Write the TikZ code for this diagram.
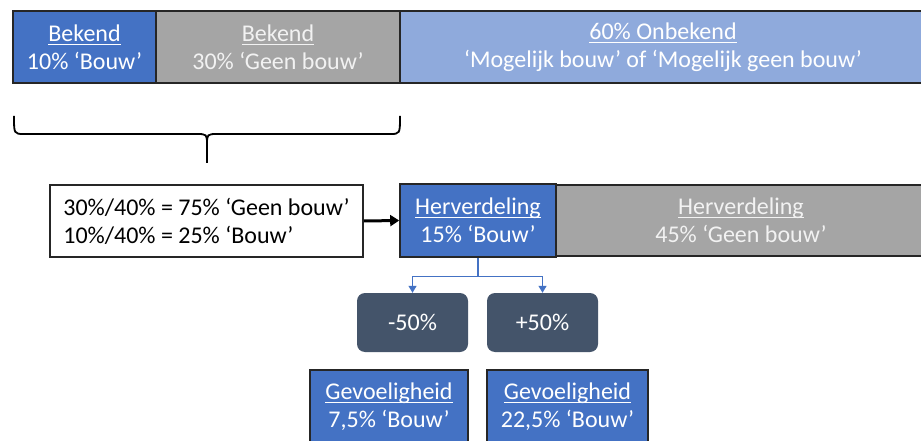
\documentclass[tikz,border=0pt]{standalone}
\usepackage{fontspec}
\setmainfont{Carlito}
\usetikzlibrary{arrows.meta}
\definecolor{obl}{HTML}{4472C4}
\definecolor{ogr}{HTML}{A5A5A5}
\definecolor{olb}{HTML}{8FAADC}
\definecolor{odk}{HTML}{44546A}
\definecolor{otx}{HTML}{F2F2F2}
\definecolor{olin}{HTML}{262626}
\newsavebox\ulbox
\newcommand\ulin[1]{\sbox\ulbox{#1}\rlap{\rule[-3.6pt]{\wd\ulbox}{1.1pt}}\usebox\ulbox}
\tikzset{
  box/.style={draw=olin, line width=1.6pt, inner sep=0pt, align=center,
    font=\fontsize{24}{28}\selectfont},
  bluebox/.style={box, fill=obl, text=white},
  graybox/.style={box, fill=ogr, text=otx},
  lightbox/.style={box, fill=olb, text=white},
  whitebox/.style={box, fill=white, text=black, align=left},
  darkbox/.style={fill=odk, text=white, rounded corners=8pt, inner sep=0pt,
    font=\fontsize{24}{28}\selectfont},
  bluelink/.style={draw=obl, line width=1.2pt, -{Triangle[width=8pt,length=7pt]}},
  blacklink/.style={draw=black, line width=3pt, -{Triangle[width=11pt,length=9pt]}},
  bracestyle/.style={draw=black, line width=1.8pt}
}
\begin{document}
\begin{tikzpicture}[x=1pt,y=-1pt]
\useasboundingbox (0,0) rectangle (921,441);
\fill[white] (0,0) rectangle (921,441);
\clip (0,0) rectangle (921,441);
% top bar
\node[bluebox, minimum width=143pt, minimum height=72pt] (k1) at (84.5,47)
  {\ulin{Bekend}\\10\% ‘Bouw’};
\node[graybox, minimum width=244pt, minimum height=72pt] (k2) at (278,47)
  {\ulin{Bekend}\\30\% ‘Geen bouw’};
\node[lightbox, minimum width=526pt, minimum height=72pt] (k3) at (663,47)
  {\ulin{60\% Onbekend}\\‘Mogelijk bouw’ of ‘Mogelijk geen bouw’};
% brace
\coordinate (bl) at (14,116);
\coordinate (br) at (400,116);
\coordinate (bt) at (207,163);
\draw[bracestyle] (bl) .. controls (14,134) .. (24,134) -- (196,134)
  .. controls (207,134) .. (207,145) -- (bt);
\draw[bracestyle] (br) .. controls (400,134) .. (390,134) -- (218,134)
  .. controls (207,134) .. (207,145);
% second row
\node[whitebox, minimum width=313pt, minimum height=72pt] (calc) at (206.5,221)
  {30\%/40\% = 75\% ‘Geen bouw’\\10\%/40\% = 25\% ‘Bouw’};
\node[bluebox, minimum width=156pt, minimum height=73pt] (herv) at (478,220.5)
  {\ulin{Herverdeling}\\15\% ‘Bouw’};
\node[graybox, minimum width=370pt, minimum height=71pt] (herg) at (741,220.5)
  {\ulin{Herverdeling}\\45\% ‘Geen bouw’};
\draw[blacklink] (calc.east) -- (herv.west);
% sensitivity
\node[darkbox, minimum width=111pt, minimum height=59pt] (m50) at (412.5,322.5) {-50\%};
\node[darkbox, minimum width=111pt, minimum height=59pt] (p50) at (542.5,322.5) {+50\%};
\draw[bluelink] (herv.south) -- ++(0,18.5) -| (m50.north);
\draw[bluelink] (herv.south) -- ++(0,18.5) -| (p50.north);
\node[bluebox, minimum width=158pt, minimum height=74pt] (g1) at (389,407)
  {\ulin{Gevoeligheid}\\7,5\% ‘Bouw’};
\node[bluebox, minimum width=161pt, minimum height=74pt] (g2) at (567.5,407)
  {\ulin{Gevoeligheid}\\22,5\% ‘Bouw’};
\end{tikzpicture}
\end{document}
